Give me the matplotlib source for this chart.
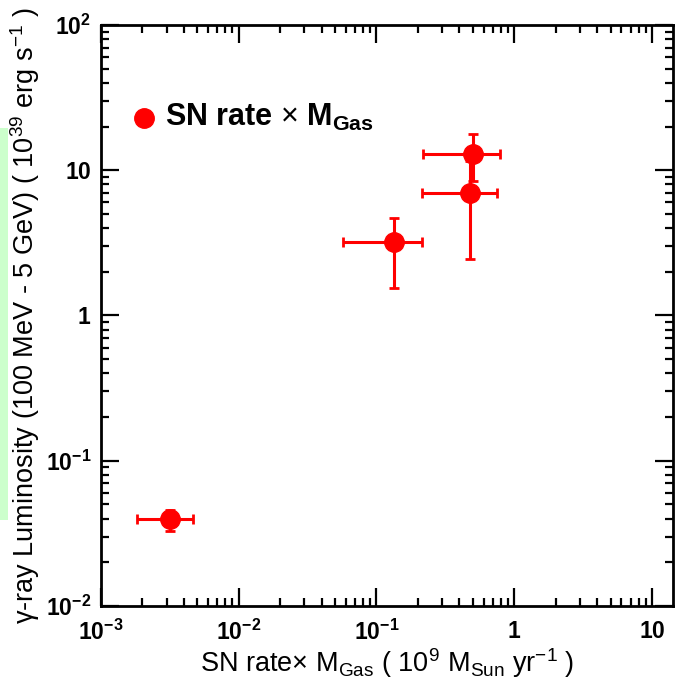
import numpy as np
import matplotlib
matplotlib.use("Agg")
import matplotlib.pyplot as plt
from matplotlib.patches import Rectangle
from matplotlib.ticker import FixedLocator, LogLocator, NullFormatter

# ----------------------------------------------------------------------------
# Data
# ----------------------------------------------------------------------------
sn_mgas = [0.00317, 0.1346, 0.499, 0.478]       # SN rate x M_Gas (1e9 M_sun / yr)
sn_mgas_lo = [0.00182, 0.0569, 0.216, 0.213]
sn_mgas_hi = [0.00464, 0.213, 0.789, 0.745]
lum = [0.0395, 3.2, 12.9, 7.0]                   # gamma-ray luminosity (1e39 erg/s)
lum_lo = [0.0330, 1.54, 8.5, 2.44]
lum_hi = [0.0460, 4.67, 17.8, 11.5]

x_ticks = [1e-3, 1e-2, 1e-1, 1, 10]
x_ticklabels = [r"$\mathbf{10^{-3}}$", r"$\mathbf{10^{-2}}$", r"$\mathbf{10^{-1}}$",
                r"$\mathbf{1}$", r"$\mathbf{10}$"]
y_ticks = [1e-2, 1e-1, 1, 10, 100]
y_ticklabels = [r"$\mathbf{10^{-2}}$", r"$\mathbf{10^{-1}}$", r"$\mathbf{1}$",
                r"$\mathbf{10}$", r"$\mathbf{10^{2}}$"]

# ----------------------------------------------------------------------------
# Style (ROOT-like)
# ----------------------------------------------------------------------------
plt.rcParams['font.family'] = ['Liberation Sans', 'DejaVu Sans']
plt.rcParams['mathtext.fontset'] = 'custom'
plt.rcParams['mathtext.rm'] = 'Liberation Sans'
plt.rcParams['mathtext.it'] = 'Liberation Sans:italic'
plt.rcParams['mathtext.bf'] = 'Liberation Sans:bold'

fig = plt.figure(figsize=(6.75, 6.89), dpi=100)
ax = fig.add_axes([0.1496, 0.1205, 0.8474, 0.8432])

# stray light-green strip on the left edge of the original
fig.patches.append(Rectangle((0, 0.245), 0.012, 0.569, transform=fig.transFigure,
                             facecolor='#ccffcc', edgecolor='none', zorder=0))

x = np.array(sn_mgas)
y = np.array(lum)
xerr = [x - np.array(sn_mgas_lo), np.array(sn_mgas_hi) - x]
yerr = [y - np.array(lum_lo), np.array(lum_hi) - y]

ax.errorbar(x, y, xerr=xerr, yerr=yerr, fmt='o', color='#ff0000',
            markersize=14, elinewidth=2.2, capsize=3.5, capthick=2)

ax.set_xscale('log')
ax.set_yscale('log')
ax.set_xlim(1e-3, 14.2)
ax.set_ylim(1e-2, 1e2)

ax.xaxis.set_major_locator(FixedLocator(x_ticks))
ax.set_xticklabels(x_ticklabels)
ax.yaxis.set_major_locator(FixedLocator(y_ticks))
ax.set_yticklabels(y_ticklabels)
ax.xaxis.set_minor_locator(LogLocator(base=10, subs=np.arange(2, 10), numticks=20))
ax.yaxis.set_minor_locator(LogLocator(base=10, subs=np.arange(2, 10), numticks=20))
ax.xaxis.set_minor_formatter(NullFormatter())
ax.yaxis.set_minor_formatter(NullFormatter())

ax.tick_params(which='both', direction='in', top=True, right=True, width=1.6,
               labelsize=16.5)
ax.tick_params(axis='x', which='major', length=13, pad=10)
ax.tick_params(axis='y', which='major', length=13, pad=7)
ax.tick_params(which='minor', length=6)
for s in ax.spines.values():
    s.set_linewidth(2)

ax.set_xlabel(r"SN rate$\times$ M$_{\mathrm{Gas}}$ ( 10$^{9}$ M$_{\mathrm{Sun}}$ yr$^{-1}$ )",
              fontsize=19.5, labelpad=1)
ax.set_ylabel(r"γ-ray Luminosity (100 MeV - 5 GeV) ( 10$^{39}$ erg s$^{-1}$ )",
              fontsize=19.5, labelpad=3)

# legend entry
ax.plot([0.00205], [23.0], 'o', color='#ff0000', markersize=14)
ax.text(0.0029, 23.0, r"SN rate $\times$ M$_{\mathbf{Gas}}$", fontsize=22,
        fontweight='bold', va='center', ha='left')

fig.savefig('out.png', dpi=100)
